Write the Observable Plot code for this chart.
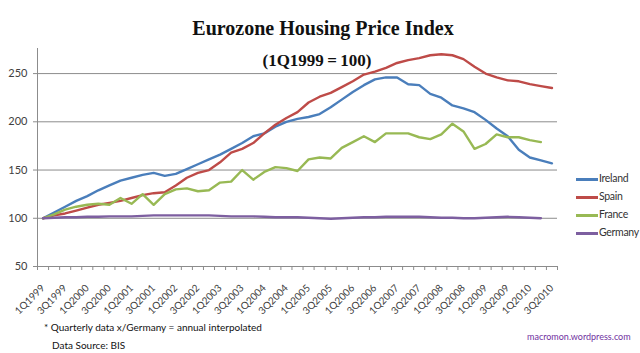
<!DOCTYPE html>
<html>
<head>
<meta charset="utf-8">
<script src="https://cdn.jsdelivr.net/npm/d3@7"></script>
<script src="https://cdn.jsdelivr.net/npm/@observablehq/plot@0.6"></script>
<style>
  html, body { margin: 0; padding: 0; background: #fff; }
  #wrap { position: relative; width: 640px; height: 353px; background: #fff; overflow: hidden; }
  #chart { position: absolute; left: 0; top: 0; }
  .abs { position: absolute; white-space: nowrap; }
  .title { left: 0; width: 646px; text-align: center; font-family: "Liberation Serif", serif; font-weight: bold; color: #111; }
  .leg { font-family: Lato, sans-serif; font-size: 10.5px; letter-spacing: -0.3px; color: #333; line-height: 10px; }
  .sw { position: absolute; width: 22px; height: 2.5px; }
  .note { font-family: Lato, sans-serif; font-size: 10px; color: #111; line-height: 10px; }
</style>
</head>
<body>
<div id="wrap">
  <div id="chart"></div>
</div>
<script>
const quarters = [
  "1Q1999","2Q1999","3Q1999","4Q1999",
  "1Q2000","2Q2000","3Q2000","4Q2000",
  "1Q2001","2Q2001","3Q2001","4Q2001",
  "1Q2002","2Q2002","3Q2002","4Q2002",
  "1Q2003","2Q2003","3Q2003","4Q2003",
  "1Q2004","2Q2004","3Q2004","4Q2004",
  "1Q2005","2Q2005","3Q2005","4Q2005",
  "1Q2006","2Q2006","3Q2006","4Q2006",
  "1Q2007","2Q2007","3Q2007","4Q2007",
  "1Q2008","2Q2008","3Q2008","4Q2008",
  "1Q2009","2Q2009","3Q2009","4Q2009",
  "1Q2010","2Q2010","3Q2010"
];
const countries = ["Ireland", "Spain", "France", "Germany"];
const colors = ["#4a7ebb", "#be4b48", "#98b954", "#7d5fa0"];

const ireland = [100,106,112,118,123,129,134,139,142,145,147,144,146,151,156,161,166,172,178,185,188,195,200,203,205,208,215,223,231,238,244,246,246,239,238,229,225,217,214,210,202,193,185,171,163,160,157];
const spain   = [100,103,105,108,111,114,116,118,121,124,126,127,134,142,147,150,158,168,172,178,188,197,204,210,220,226,230,236,242,249,252,256,261,264,266,269,270,269,265,257,250,246,243,242,239,237,235];
const france  = [100,104,109,112,114,115,114,121,115,125,114,125,130,131,128,129,137,138,150,140,148,153,152,149,161,163,162,173,179,185,179,188,188,188,184,182,187,198,190,172,177,187,184,184,181,179];
const germany = [100,100.5,101,101,101.5,101.5,102,102,102,102.5,103,103,103,103,103,103,102.5,102,102,102,101.5,101,101,101,100.5,100,99.5,100,100.5,101,101,101.5,101.5,101.5,101.5,101,100.5,100.5,100,100,100.5,101,101.5,101,100.5,100];

const yTicks = [50, 100, 150, 200, 250];
const gridValues = [100, 150, 200, 250];

const seriesValues = [ireland, spain, france, germany];
const data = countries.flatMap((c, k) => seriesValues[k].map((v, i) => ({country: c, i: i + 0.5, v})));

const labelPos = quarters.map((q, i) => i).filter(i => i % 2 === 0).map(i => i + 0.5);

const axisGray = "#8c8c8c";
const textGray = "#404040";

const chart = Plot.plot({
  width: 640,
  height: 320,
  marginLeft: 37,
  marginRight: 83,
  marginTop: 48,
  marginBottom: 54,
  style: {fontFamily: "Lato, sans-serif", background: "transparent", overflow: "visible"},
  x: {domain: [0, quarters.length], axis: null},
  y: {domain: [50, 276], axis: null},
  color: {domain: countries, range: colors},
  marks: [
    Plot.ruleY(gridValues, {stroke: axisGray, strokeWidth: 1}),
    Plot.ruleY([50], {stroke: axisGray, strokeWidth: 1}),
    Plot.ruleX([0], {stroke: axisGray, strokeWidth: 1}),
    Plot.axisY({ticks: yTicks, tickSize: 4, tickPadding: 6, stroke: axisGray, fill: textGray, fontSize: 11, label: null, tickFormat: d => String(d)}),
    Plot.axisX({ticks: d3.range(quarters.length + 1), tickSize: 4, tickFormat: () => "", label: null, stroke: axisGray}),
    Plot.axisX({ticks: labelPos, tickSize: 0, tickPadding: 10, tickRotate: -45, fill: textGray, fontSize: 10, label: null, dy: 10,
      tickFormat: d => quarters[Math.round(d - 0.5)]}),
    Plot.line(data, {x: "i", y: "v", z: "country", stroke: "country", strokeWidth: 2.4, strokeLinejoin: "round"})
  ]
});
document.getElementById("chart").appendChild(chart);

const wrap = document.getElementById("wrap");
function addDiv(cls, text, css) {
  const d = document.createElement("div");
  d.className = "abs " + cls;
  d.textContent = text;
  Object.assign(d.style, css);
  wrap.appendChild(d);
  return d;
}
addDiv("title", "Eurozone Housing Price Index", {top: "18px", fontSize: "20px", lineHeight: "20px"});
addDiv("title", "(1Q1999\u2009=\u2009100)", {top: "52px", fontSize: "17px", lineHeight: "17px", width: "634px"});

const legendY = [179, 197, 215, 233];
countries.forEach((c, k) => {
  const sw = document.createElement("div");
  sw.className = "sw";
  Object.assign(sw.style, {left: "576px", top: (legendY[k] - 1) + "px", background: colors[k]});
  wrap.appendChild(sw);
  addDiv("leg", c, {left: "599px", top: (legendY[k] - 6) + "px"});
});

addDiv("note", "* Quarterly data x/Germany = annual interpolated", {left: "44px", top: "322px"});
addDiv("note", "Data Source:  BIS", {left: "52px", top: "340px"});
addDiv("note", "macromon.wordpress.com", {left: "527px", top: "332px", color: "#7030a0", fontSize: "9px"});
</script>
</body>
</html>
